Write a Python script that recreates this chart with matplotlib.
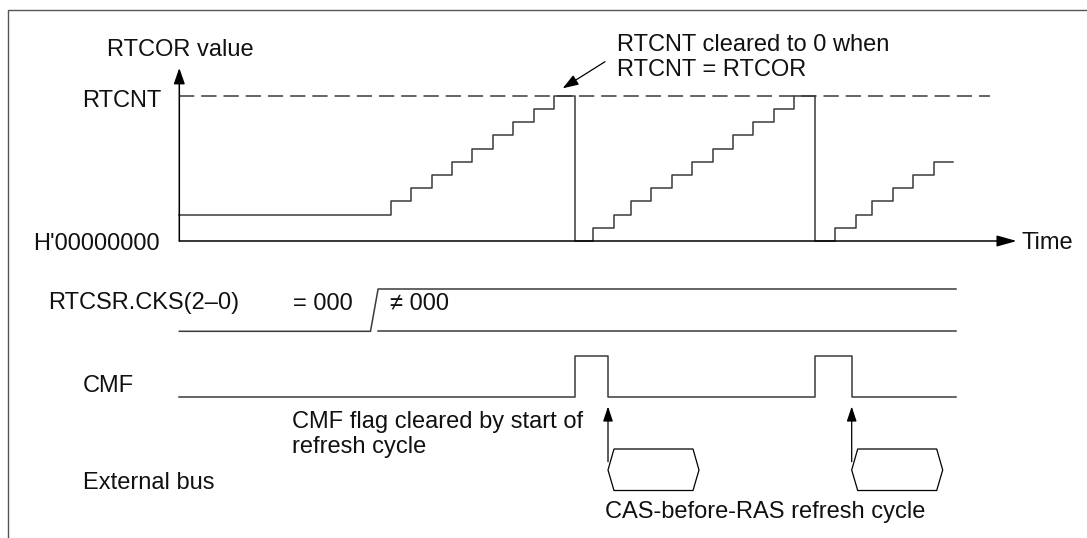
import matplotlib
matplotlib.use("Agg")
import matplotlib.pyplot as plt
from matplotlib.patches import Polygon

plt.rcParams['font.family'] = ['Liberation Sans', 'DejaVu Sans']
plt.rcParams['lines.scale_dashes'] = False

# ---------------- data (time in diagram units, counter in counts) ----------------
counter_times = [0, 211.4, 231.4, 252.4, 272.7, 293.0, 313.4, 334.0, 354.7, 375.0,
                 395.7, 413.4, 435.0, 451.4, 471.7, 492.4, 513.0, 533.4, 553.4, 574.0, 594.4, 615.0,
                 635.7, 655.2, 676.2, 692.7, 713.2, 733.7, 754.2]
counter_values = [2, 3, 4, 5, 6, 7, 8, 9, 10, 11,
                  0, 1, 2, 3, 4, 5, 6, 7, 8, 9, 10, 11,
                  0, 1, 2, 3, 4, 5, 6]
counter_end = 774.0
rtcor_level = 11
time_axis_end = 837.4
cks_change = 195.0          # RTCSR.CKS changes from 000 to non-zero
cmf_set = [395.7, 635.7]     # CMF set when RTCNT = RTCOR
cmf_clear = [428.7, 672.4]   # CMF cleared at start of refresh cycle
refresh_len = 91.0
signal_end = 776.7

row_labels = ["RTCSR.CKS(2\u20130)", "CMF", "External bus"]

# ---------------- figure layout ----------------
W, H, DPI = 1087, 538, 100
X0 = 179.3                   # pixel column of time zero
BASE = 241.0                 # pixel row of counter zero
UNIT = 13.2                  # pixels per count
TOP = 68.0
LC = '#3a3a3a'
LW = 1.1
FS = 17.0

fig = plt.figure(figsize=(W / DPI, H / DPI), dpi=DPI)
fig.patch.set_facecolor('white')

ax_px = fig.add_axes([0, 0, 1, 1])
ax_px.set_xlim(0, W); ax_px.set_ylim(H, 0); ax_px.axis('off')

ax_sig = fig.add_axes([0, 0, 1, 1])
ax_sig.set_xlim(-X0, W - X0); ax_sig.set_ylim(H, 0); ax_sig.axis('off')

ax_c = fig.add_axes([0, (H - BASE) / H, 1, (BASE - TOP) / H])
ax_c.set_xlim(-X0, W - X0); ax_c.set_ylim(0, (BASE - TOP) / UNIT); ax_c.axis('off')

# frame
ax_px.plot([7.5, 7.5, W], [H, 10, 10], color='#555555', lw=1.0, clip_on=False)

# ---------------- counter plot ----------------
ax_c.step(counter_times + [counter_end], counter_values + [counter_values[-1]],
          where='post', color=LC, lw=LW, clip_on=False)
ax_c.plot([0, 990 - X0], [rtcor_level, rtcor_level], color=LC, lw=LW,
          dashes=(11, 5), clip_on=False)
# axes arrows
ax_c.annotate('', xy=(0, (BASE - TOP) / UNIT), xytext=(0, 0),
              arrowprops=dict(arrowstyle='-|>,head_length=0.8,head_width=0.28',
                              mutation_scale=12, color='black', lw=LW,
                              shrinkA=0, shrinkB=0), annotation_clip=False)
ax_c.annotate('', xy=(time_axis_end, 0), xytext=(0, 0),
              arrowprops=dict(arrowstyle='-|>,head_length=1.0,head_width=0.28',
                              mutation_scale=12, color='black', lw=LW,
                              shrinkA=0, shrinkB=0), annotation_clip=False)

# ---------------- RTCSR.CKS ----------------
CKS_HI, CKS_LO = 289.0, 331.3
ax_sig.plot([0, cks_change - 3.8, cks_change + 3.8, signal_end],
            [CKS_LO, CKS_LO, CKS_HI, CKS_HI], color=LC, lw=LW)
ax_sig.plot([cks_change + 3.8, signal_end], [CKS_LO, CKS_LO], color=LC, lw=LW)

# ---------------- CMF ----------------
CMF_HI, CMF_LO = 355.7, 396.7
xs, ys = [0], [CMF_LO]
for s, c in zip(cmf_set, cmf_clear):
    xs += [s, s, c, c]
    ys += [CMF_LO, CMF_HI, CMF_HI, CMF_LO]
xs.append(signal_end); ys.append(CMF_LO)
ax_sig.plot(xs, ys, color=LC, lw=LW)

# ---------------- External bus refresh cycles ----------------
BUS_T, BUS_M, BUS_B = 449.0, 470.0, 490.5
bevel = 6.0
for c in cmf_clear:
    ax_sig.add_patch(Polygon([(c, BUS_M), (c + bevel, BUS_T), (c + refresh_len - bevel, BUS_T),
                              (c + refresh_len, BUS_M), (c + refresh_len - bevel, BUS_B),
                              (c + bevel, BUS_B)], closed=True, fill=False,
                             edgecolor='black', lw=0.9))
    ax_sig.annotate('', xy=(c, 406.5), xytext=(c, 461.7),
                    arrowprops=dict(arrowstyle='-|>,head_length=0.75,head_width=0.25',
                                    mutation_scale=12, color='black', lw=0.9,
                                    shrinkA=0, shrinkB=0))

# annotation arrow for clearing
ax_px.annotate('', xy=(562.7, 88.3), xytext=(605.0, 61.7),
               arrowprops=dict(arrowstyle='-|>,head_length=0.8,head_width=0.28',
                               mutation_scale=12, color='black', lw=0.9,
                               shrinkA=0, shrinkB=0))

# ---------------- texts ----------------
texts = [
    ("RTCOR value", 106.7, 55.5),
    ("RTCNT", 81.7, 107.0),
    ("H'00000000", 33.3, 250.0),
    ("Time", 1021.7, 249.0),
    ("RTCNT cleared to 0 when", 617.3, 51.0),
    ("RTCNT = RTCOR", 617.3, 76.0),
    (row_labels[0], 48.3, 309.5),
    ("= 000", 293.3, 309.5),
    ("\u2260 000", 390.0, 309.5),
    (row_labels[1], 82.7, 392.5),
    ("CMF flag cleared by start of", 291.7, 428.3),
    ("refresh cycle", 291.7, 453.0),
    (row_labels[2], 82.7, 489.0),
    ("CAS-before-RAS refresh cycle", 605.0, 518.0),
]
for s, x, y in texts:
    ax_px.text(x, y, s, fontsize=FS, color='#111111', ha='left', va='baseline')

fig.savefig('out.png', dpi=DPI, facecolor='white')
